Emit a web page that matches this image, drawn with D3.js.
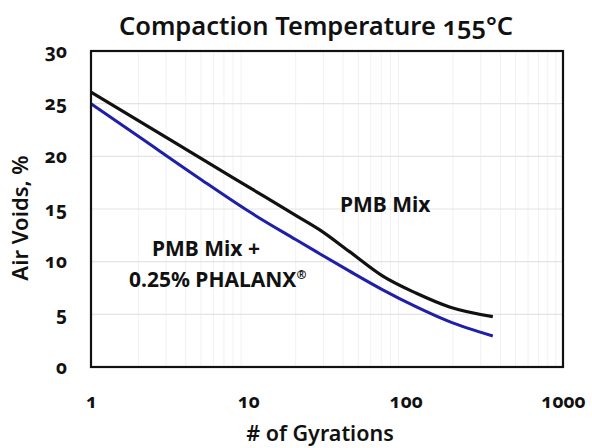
<!DOCTYPE html>
<html><head><meta charset="utf-8">
<script src="https://cdn.jsdelivr.net/npm/d3@7"></script>
<style>
body{margin:0;background:#fff;}
svg text{font-family:"Noto Sans","Open Sans",sans-serif;fill:#111;font-variant-numeric:oldstyle-nums;}
</style></head>
<body><svg id="c" width="592" height="448"></svg>
<script>
const pmbGyr = [1, 2, 5, 10, 20, 28.6, 44, 72, 117, 190, 358];
const pmbVoids = [26.1, 23.4, 19.8, 17.1, 14.4, 13.0, 10.95, 8.6, 7.0, 5.7, 4.78];
const phxGyr = [1, 2, 5, 10, 20, 27, 44, 72, 117, 190, 358];
const phxVoids = [25.0, 21.9, 17.8, 14.8, 12.1, 10.95, 9.1, 7.3, 5.7, 4.3, 2.94];
const xTicks = [1, 10, 100, 1000];
const yTicks = [0, 5, 10, 15, 20, 25, 30];

const svg = d3.select("#c");
const L = 91, R = 563, T = 51, B = 367;
const x = d3.scaleLog().domain([1, 1000]).range([L, R]);
const y = d3.scaleLinear().domain([0, 30]).range([B, T]);

// grid
const minor = [];
for (let d = 1; d < 1000; d *= 10) for (let k = 2; k <= 9; k++) minor.push(d * k);
svg.append("g").selectAll("line").data(minor).join("line")
  .attr("x1", d => x(d)).attr("x2", d => x(d)).attr("y1", T).attr("y2", B)
  .attr("stroke", "#f1f1f1").attr("stroke-width", 1);
svg.append("g").selectAll("line").data(yTicks.slice(1, -1)).join("line")
  .attr("x1", L).attr("x2", R).attr("y1", d => y(d)).attr("y2", d => y(d))
  .attr("stroke", "#e4e4e4").attr("stroke-width", 1.2);

// axes (labels only)
const yAx = svg.append("g").attr("transform", `translate(${L},0)`)
  .call(d3.axisLeft(y).tickValues(yTicks).tickSize(0).tickPadding(24).tickFormat(d3.format("d")));
yAx.select(".domain").remove();
yAx.selectAll("text").style("font-size", "19px").style("font-weight", "bold");

const xAx = svg.append("g").attr("transform", `translate(0,${B})`)
  .call(d3.axisBottom(x).tickValues(xTicks).tickSize(0).tickPadding(28).tickFormat(d3.format("d")));
xAx.select(".domain").remove();
xAx.selectAll("text").style("font-size", "19px").style("font-weight", "bold");

// lines
const line = d3.line().x(d => x(d[0])).y(d => y(d[1])).curve(d3.curveMonotoneX);
svg.append("path").datum(d3.zip(phxGyr, phxVoids)).attr("d", line)
  .attr("fill", "none").attr("stroke", "#1f1fa8").attr("stroke-width", 3);
svg.append("path").datum(d3.zip(pmbGyr, pmbVoids)).attr("d", line)
  .attr("fill", "none").attr("stroke", "#111").attr("stroke-width", 3.2);

// frame
svg.append("rect").attr("x", L).attr("y", T).attr("width", R - L).attr("height", B - T)
  .attr("fill", "none").attr("stroke", "#111").attr("stroke-width", 2.2);

// titles
svg.append("text").attr("x", 316).attr("y", 35).attr("text-anchor", "middle")
  .style("font-size", "25.5px").style("font-weight", "600").text("Compaction Temperature 155°C");
svg.append("text").attr("x", 320).attr("y", 441).attr("text-anchor", "middle")
  .style("font-size", "21.5px").style("font-weight", "600").text("# of Gyrations");
svg.append("text").attr("transform", "translate(28,218) rotate(-90)").attr("text-anchor", "middle")
  .style("font-size", "22px").style("font-weight", "600").text("Air Voids, %");

// annotations
svg.append("text").attr("x", 340).attr("y", 212).style("font-size", "21px").style("font-weight", "bold").text("PMB Mix");
svg.append("text").attr("x", 152).attr("y", 256).style("font-size", "21px").style("font-weight", "bold").text("PMB Mix +");
const t2 = svg.append("text").attr("x", 129).attr("y", 287).style("font-size", "21px").style("font-weight", "bold").style("font-variant-numeric", "normal");
t2.append("tspan").text("0.25% PHALANX");
t2.append("tspan").attr("dy", -8).style("font-size", "12px").text("®");
</script></body></html>
